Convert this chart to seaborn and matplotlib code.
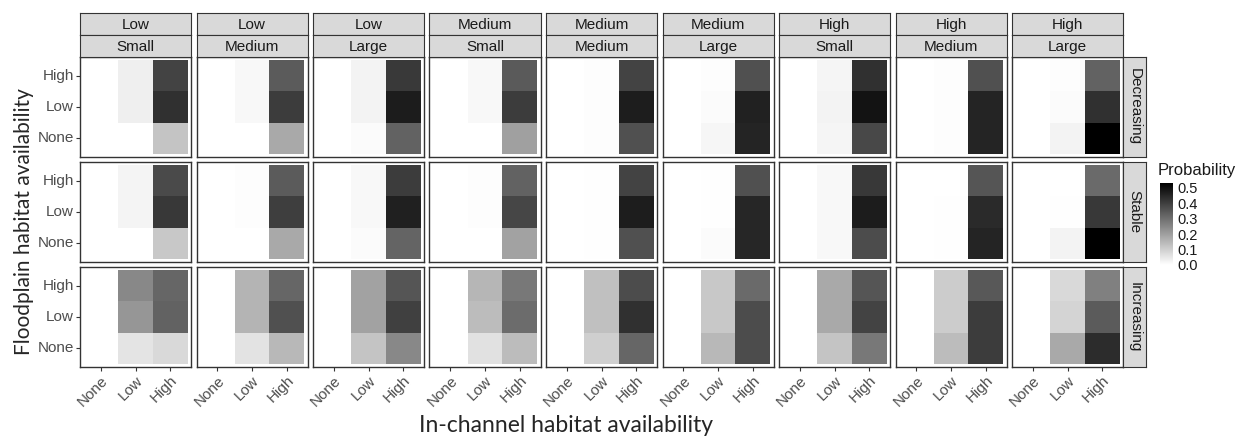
import numpy as np
import pandas as pd
import matplotlib
matplotlib.use("Agg")
import matplotlib.pyplot as plt
import seaborn as sns
from matplotlib.colors import LinearSegmentedColormap, Normalize
from matplotlib.cm import ScalarMappable

# facet labels
connectivity = ["Low", "Low", "Low", "Medium", "Medium", "Medium", "High", "High", "High"]
river_size = ["Small", "Medium", "Large", "Small", "Medium", "Large", "Small", "Medium", "Large"]
trend = ["Decreasing", "Stable", "Increasing"]
levels = ["None", "Low", "High"]

# probabilities per panel, as (floodplain None, Low, High)
# in-channel "None" is zero everywhere
dec_low = [(0.0, 0.035, 0.035), (0.0, 0.015, 0.015), (0.01, 0.025, 0.025),
           (0.0, 0.015, 0.015), (0.006, 0.006, 0.006), (0.019, 0.01, 0.006),
           (0.021, 0.025, 0.021), (0.006, 0.006, 0.006), (0.025, 0.01, 0.006)]
dec_high = [(0.123, 0.43, 0.39), (0.18, 0.405, 0.34), (0.326, 0.472, 0.41),
            (0.197, 0.405, 0.343), (0.364, 0.468, 0.39), (0.455, 0.46, 0.364),
            (0.38, 0.49, 0.43), (0.455, 0.455, 0.364), (0.53, 0.43, 0.326)]
sta_low = [(0.0, 0.023, 0.023), (0.0, 0.006, 0.006), (0.01, 0.015, 0.015),
           (0.0, 0.006, 0.006), (0.004, 0.004, 0.004), (0.01, 0.004, 0.004),
           (0.015, 0.015, 0.015), (0.004, 0.004, 0.002), (0.025, 0.004, 0.0)]
sta_high = [(0.114, 0.414, 0.376), (0.18, 0.40, 0.34), (0.322, 0.463, 0.405),
            (0.193, 0.385, 0.326), (0.364, 0.468, 0.39), (0.45, 0.45, 0.364),
            (0.372, 0.472, 0.414), (0.455, 0.443, 0.353), (0.53, 0.414, 0.31)]
inc_low = [(0.056, 0.218, 0.247), (0.06, 0.156, 0.156), (0.123, 0.193, 0.193),
           (0.064, 0.139, 0.152), (0.10, 0.131, 0.131), (0.148, 0.114, 0.114),
           (0.123, 0.18, 0.18), (0.139, 0.106, 0.106), (0.18, 0.09, 0.08)]
inc_high = [(0.08, 0.326, 0.318), (0.148, 0.364, 0.318), (0.247, 0.397, 0.353),
            (0.139, 0.306, 0.28), (0.318, 0.43, 0.372), (0.372, 0.372, 0.31),
            (0.28, 0.39, 0.353), (0.405, 0.405, 0.347), (0.438, 0.34, 0.264)]

rows = []
for t, low_vals, high_vals in zip(trend, [dec_low, sta_low, inc_low], [dec_high, sta_high, inc_high]):
    for p in range(9):
        for k, fp in enumerate(levels):
            rows.append((t, p, "None", fp, 0.0))
            rows.append((t, p, "Low", fp, low_vals[p][k]))
            rows.append((t, p, "High", fp, high_vals[p][k]))
df = pd.DataFrame(rows, columns=["trend", "panel", "inchannel", "floodplain", "prob"])

sns.set_theme(style="white")
plt.rcParams["font.family"] = ["Liberation Sans", "DejaVu Sans"]

cmap = LinearSegmentedColormap.from_list("wb", ["white", "black"])
vmax = 0.53
W, H = 1247, 437
fig = plt.figure(figsize=(12.47, 4.37), dpi=100)


def box(x0, y0, x1, y1):
    return [x0 / W, 1 - y1 / H, (x1 - x0) / W, (y1 - y0) / H]


edge = "#333333"
pw, step = 111, 116.5
row_top = [57, 162, 267]
ph = 100

for r, t in enumerate(trend):
    for p in range(9):
        x0 = 80 + p * step
        y0 = row_top[r]
        ax = fig.add_axes(box(x0, y0, x0 + pw, y0 + ph))
        sub = df[(df.trend == t) & (df.panel == p)]
        grid = sub.pivot(index="floodplain", columns="inchannel", values="prob")
        grid = grid.loc[levels[::-1], levels]
        sns.heatmap(grid, ax=ax, cmap=cmap, vmin=0, vmax=vmax, cbar=False)
        ax.set_xlim(-0.1, 3.1)
        ax.set_ylim(3.1, -0.1)
        ax.set_xlabel("")
        ax.set_ylabel("")
        for s in ax.spines.values():
            s.set_visible(True)
            s.set_color(edge)
            s.set_linewidth(1.0)
        ax.tick_params(length=3, width=0.8, color=edge, labelsize=11, labelcolor="#4D4D4D", pad=1.5)
        if p == 0:
            ax.tick_params(axis="y", left=True)
            ax.set_yticklabels(levels[::-1], rotation=0)
        else:
            ax.set_yticks([])
        if r == 2:
            ax.tick_params(axis="x", bottom=True)
            ax.set_xticklabels(levels, rotation=45, ha="right", rotation_mode="anchor")
        else:
            ax.set_xticks([])

        if r == 0:
            for (sy0, sy1, lab) in [(13, 35, connectivity[p]), (35, 57, river_size[p])]:
                sax = fig.add_axes(box(x0, sy0, x0 + pw, sy1))
                sax.set_facecolor("#D9D9D9")
                sax.set_xticks([])
                sax.set_yticks([])
                for s in sax.spines.values():
                    s.set_color(edge)
                    s.set_linewidth(0.8)
                sax.text(0.5, 0.47, lab, ha="center", va="center", fontsize=11, color="#1A1A1A",
                         transform=sax.transAxes)
    rax = fig.add_axes(box(80 + 8 * step + pw, row_top[r], 80 + 8 * step + pw + 23, row_top[r] + ph))
    rax.set_facecolor("#D9D9D9")
    rax.set_xticks([])
    rax.set_yticks([])
    for s in rax.spines.values():
        s.set_color(edge)
        s.set_linewidth(0.8)
    rax.text(0.5, 0.5, t, ha="center", va="center", rotation=-90, fontsize=11, color="#1A1A1A",
             transform=rax.transAxes)

# colour bar
cax = fig.add_axes(box(1160, 183, 1173, 265))
cb = fig.colorbar(ScalarMappable(norm=Normalize(0, vmax), cmap=cmap), cax=cax)
cb.set_ticks([0.0, 0.1, 0.2, 0.3, 0.4, 0.5])
cb.set_ticklabels(["0.0", "0.1", "0.2", "0.3", "0.4", "0.5"])
cb.outline.set_visible(False)
cax.tick_params(length=2.5, width=0.8, color="white", direction="in", labelsize=10.5,
                labelcolor="#1A1A1A", pad=3)
fig.text(1158 / W, 1 - 170 / H, "Probability", fontsize=12, color="#1A1A1A", ha="left", va="center")

fig.text(566 / W, 1 - 425 / H, "In-channel habitat availability", fontsize=16.5,
         family=["Lato", "DejaVu Sans"], ha="center", va="center")
fig.text(24 / W, 1 - 222 / H, "Floodplain habitat availability", fontsize=15,
         family=["Lato", "DejaVu Sans"], ha="center", va="center", rotation=90)

fig.savefig("out.png", dpi=100, facecolor="white")
